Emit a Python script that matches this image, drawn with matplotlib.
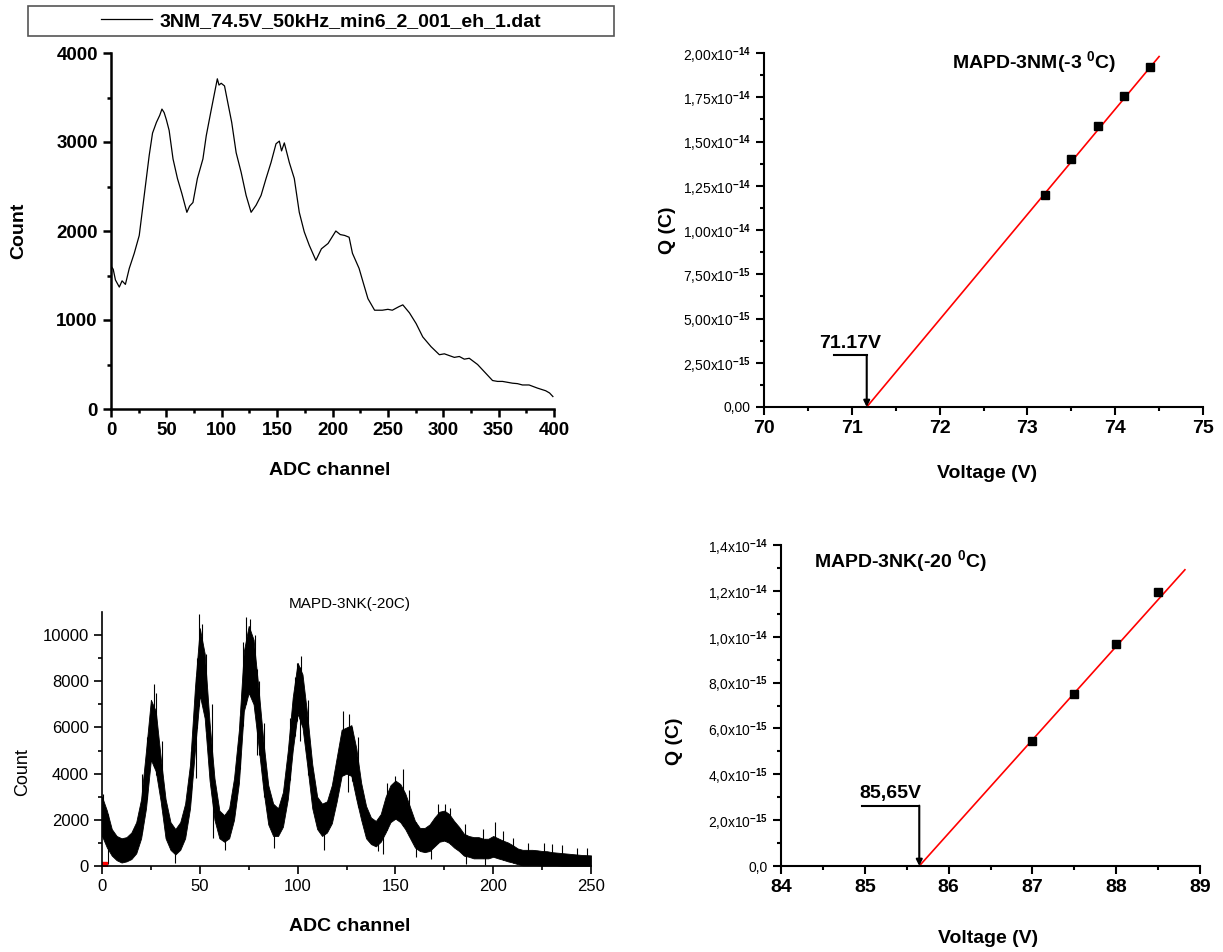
import numpy as np
import matplotlib
matplotlib.use("Agg")
import matplotlib.pyplot as plt
from matplotlib.patches import Rectangle
from matplotlib.lines import Line2D

plt.rcParams['font.family'] = ['Liberation Sans', 'DejaVu Sans']
plt.rcParams['mathtext.fontset'] = 'custom'
plt.rcParams['mathtext.rm'] = 'Liberation Sans:bold'
plt.rcParams['mathtext.default'] = 'rm'

# ---- top-left spectrum (3NM, 74.5 V) ----
spec1_label = "3NM_74.5V_50kHz_min6_2_001_eh_1.dat"
spec1_ch = [0, 0.4, 2, 4, 7.5, 10, 13, 16.5, 21, 25.5, 28.5, 31.5, 34.5, 37.5, 41,
            44, 46, 48, 50, 52.5, 56, 60, 64, 68.5, 71, 74, 78, 83, 86, 90, 93, 96,
            97.5, 99.5, 102.5, 105.5, 109, 113, 117.5, 122, 126.5, 131, 135.5, 140,
            144.5, 149, 152, 154, 156.5, 161, 165.5, 170, 174.5, 179, 185, 190, 196,
            203, 207, 211, 215, 218, 224, 227.5, 232, 238, 245, 250, 254, 260, 263.5,
            269.5, 275.5, 281.5, 289, 296.5, 301, 305.5, 310, 314.5, 319, 323.5, 331,
            338.5, 344.5, 349, 353.5, 358, 362.5, 367, 371.5, 377.5, 385, 392.5, 396, 399]
spec1_cnt = [790, 1600, 1570, 1450, 1370, 1440, 1400, 1580, 1750, 1950, 2250, 2550,
             2850, 3100, 3220, 3300, 3370, 3330, 3250, 3130, 2810, 2590, 2420, 2210,
             2280, 2320, 2590, 2810, 3070, 3330, 3520, 3710, 3640, 3660, 3630, 3440,
             3220, 2880, 2660, 2400, 2210, 2290, 2400, 2590, 2770, 2980, 3010, 2900,
             2990, 2770, 2590, 2210, 1990, 1840, 1670, 1800, 1860, 2000, 1960, 1950,
             1930, 1750, 1580, 1430, 1240, 1110, 1110, 1120, 1110, 1150, 1170, 1080,
             960, 810, 700, 610, 620, 600, 580, 590, 560, 570, 500, 400, 320, 310,
             310, 300, 290, 285, 270, 270, 235, 205, 180, 140]

# ---- bottom-left spectrum (3NK, -20 C): noisy band read as upper / lower envelope ----
spec2_ch = [0, 2.5, 5, 7.5, 10, 12.5, 15, 17.5, 20, 22.5, 25, 27.5, 30, 32.5, 35, 37.5,
            40, 42.5, 45, 47.5, 50, 52.5, 55, 57.5, 60, 62.5, 65, 67.5, 70, 72.5, 75,
            77.5, 80, 82.5, 85, 87.5, 90, 92.5, 95, 97.5, 100, 102.5, 105, 107.5, 110,
            112.5, 115, 117.5, 120, 122.5, 125, 127.5, 130, 132.5, 135, 137.5, 140,
            142.5, 145, 147.5, 150, 152.5, 155, 157.5, 160, 162.5, 165, 167.5, 170,
            172.5, 175, 177.5, 180, 182.5, 185, 187.5, 190, 192.5, 195, 197.5, 200,
            202.5, 205, 207.5, 210, 212.5, 215, 217.5, 220, 222.5, 225, 227.5, 230,
            232.5, 235, 237.5, 240, 242.5, 245, 247.5, 250]
spec2_hi = [3000, 2400, 1600, 1300, 1200, 1250, 1450, 1900, 2900, 5000, 7200, 6700,
            4700, 2900, 1900, 1600, 1900, 2700, 4400, 7700, 10300, 9200, 6200, 3800,
            2400, 2200, 2500, 3800, 5900, 9300, 10400, 9800, 7700, 5400, 3500, 2700,
            2500, 3200, 5000, 7300, 8800, 8300, 6500, 4400, 3000, 2700, 2800, 3500,
            4700, 5900, 6000, 6100, 5100, 3600, 2600, 2100, 1950, 2250, 3000, 3500,
            3700, 3550, 3150, 2550, 1950, 1650, 1650, 1800, 2100, 2350, 2400, 2250,
            1950, 1700, 1400, 1300, 1250, 1250, 1180, 1180, 1300, 1200, 1100, 1020,
            900, 760, 700, 700, 700, 680, 650, 640, 600, 580, 560, 540, 520, 500, 480,
            470, 460]
spec2_lo = [1300, 800, 450, 250, 150, 200, 300, 550, 1200, 2500, 4600, 4100, 2800,
            1200, 700, 500, 700, 1200, 2500, 5000, 7400, 6400, 3700, 2000, 1200, 1050,
            1200, 2000, 3600, 6700, 7500, 7000, 5200, 3300, 1800, 1300, 1300, 1700,
            2900, 5000, 6600, 6000, 4300, 2500, 1600, 1300, 1450, 1850, 2800, 3900,
            4000, 3900, 2900, 2000, 1200, 950, 850, 1050, 1450, 1900, 2050, 1900, 1600,
            1200, 800, 650, 600, 650, 850, 1050, 1100, 1000, 800, 650, 450, 400, 330,
            330, 330, 330, 400, 330, 270, 200, 150, 80, 30, 30, 30, 30, 20, 20, 20, 20,
            10, 10, 10, 10, 10, 10, 10]
spike_up_ch = [0.5, 20.5, 23, 26.5, 27.8, 30.5, 45.5, 48.5, 49.5, 51, 53, 56, 70.5,
               72, 73.5, 75.5, 78, 80.5, 83, 96, 98.5, 99.5, 101.5, 105.5, 123, 126.5,
               128, 131, 145.5, 150, 154, 157, 172, 175.5, 178, 185.5, 195, 201, 205,
               210, 218, 226, 230, 235, 243, 248]
spike_up_top = [3100, 4000, 5600, 7900, 7500, 5400, 5000, 9000, 10900, 10500, 9200,
                7000, 6500, 9700, 10800, 10700, 10000, 8000, 6200, 6400, 8200, 8800,
                9100, 7200, 6700, 6600, 6000, 5600, 3600, 3900, 4200, 3300, 2700, 2700,
                2500, 1800, 1600, 1900, 1500, 1200, 1000, 1000, 950, 900, 800, 800]
spike_dn_ch = [3, 37.5, 48, 57, 63, 79, 88, 101, 113.5, 126, 141, 143.5, 160.5, 168,
               186, 196]
spike_dn_bot = [100, 150, 3800, 1200, 700, 4800, 800, 5400, 700, 3200, 650, 500, 400,
                300, 100, 50]
spec2_title = "MAPD-3NK(-20C)"

# ---- top-right: charge vs voltage, MAPD-3NM ----
v1 = [73.2, 73.5, 73.8, 74.1, 74.4]
q1 = [1.20e-14, 1.40e-14, 1.585e-14, 1.755e-14, 1.92e-14]
fit1_v = [71.17, 74.5]
fit1_q = [0, 1.98e-14]
q1_ticks = [0, 2.5e-15, 5e-15, 7.5e-15, 1e-14, 1.25e-14, 1.5e-14, 1.75e-14, 2e-14]
q1_labels = ['0,00', '2,50x10$^{-15}$', '5,00x10$^{-15}$', '7,50x10$^{-15}$',
             '1,00x10$^{-14}$', '1,25x10$^{-14}$', '1,50x10$^{-14}$',
             '1,75x10$^{-14}$', '2,00x10$^{-14}$']
vbr1 = 71.17
vbr1_text = "71.17V"
title1 = "MAPD-3NM(-3 $^{0}$C)"

# ---- bottom-right: charge vs voltage, MAPD-3NK ----
v2 = [87.0, 87.5, 88.0, 88.5]
q2 = [5.45e-15, 7.48e-15, 9.7e-15, 1.195e-14]
fit2_v = [85.65, 88.82]
fit2_q = [0, 1.292e-14]
q2_ticks = [0, 2e-15, 4e-15, 6e-15, 8e-15, 1e-14, 1.2e-14, 1.4e-14]
q2_labels = ['0,0', '2,0x10$^{-15}$', '4,0x10$^{-15}$', '6,0x10$^{-15}$',
             '8,0x10$^{-15}$', '1,0x10$^{-14}$', '1,2x10$^{-14}$', '1,4x10$^{-14}$']
vbr2 = 85.65
vbr2_text = "85,65V"
title2 = "MAPD-3NK(-20 $^{0}$C)"

W, H = 1223, 952
fig = plt.figure(figsize=(W / 100, H / 100), dpi=100)


def box(l, t, r, b):
    return [l / W, 1 - b / H, (r - l) / W, (b - t) / H]


def origin_style(ax, lw=1.5):
    for s in ['top', 'right']:
        ax.spines[s].set_visible(False)
    for s in ['left', 'bottom']:
        ax.spines[s].set_linewidth(lw)
    ax.tick_params(which='major', direction='out', length=6, width=lw)
    ax.tick_params(which='minor', direction='out', length=3, width=lw)


# top-left
ax1 = fig.add_axes(box(111, 53, 554, 409))
ax1.plot(spec1_ch, spec1_cnt, color='black', lw=0.9, label=spec1_label)
ax1.set_xlim(0, 400)
ax1.set_ylim(0, 4000)
ax1.set_xticks(range(0, 401, 50))
ax1.set_xticks(range(25, 400, 50), minor=True)
ax1.set_yticks(range(0, 4001, 1000))
ax1.set_yticks(range(500, 4000, 1000), minor=True)
origin_style(ax1, lw=1.8)
for t in ax1.get_xticklabels() + ax1.get_yticklabels():
    t.set_fontsize(13.5)
    t.set_fontweight('bold')
ax1.set_xlabel("ADC channel", fontsize=14, fontweight='bold')
ax1.set_ylabel("Count", fontsize=14, fontweight='bold')
ax1.xaxis.set_label_coords(0.494, -0.15)
ax1.yaxis.set_label_coords(-0.19, 0.5)
fig.patches.append(Rectangle((28 / W, 1 - 36 / H), (614 - 28) / W, 30 / H,
                             transform=fig.transFigure, fill=False,
                             edgecolor='#555555', lw=1.2))
fig.legend(handles=[Line2D([], [], color='black', lw=0.9)], labels=[spec1_label],
           loc='center', bbox_to_anchor=(321 / W, 1 - 21 / H), frameon=False,
           prop={'weight': 'bold', 'size': 14}, handlelength=2.6, handletextpad=0.4)

# top-right
ax2 = fig.add_axes(box(764, 53, 1203, 407))
ax2.plot(fit1_v, fit1_q, color='red', lw=1.2)
ax2.plot(v1, q1, 's', color='black', ms=5.5)
ax2.set_xlim(70, 75)
ax2.set_ylim(0, 2e-14)
ax2.set_xticks(range(70, 76))
ax2.set_xticks(np.arange(70.5, 75, 1.0), minor=True)
ax2.set_yticks(q1_ticks)
ax2.set_yticklabels(q1_labels)
ax2.set_yticks(np.array(q1_ticks[:-1]) + 1.25e-15, minor=True)
origin_style(ax2)
for t in ax2.get_xticklabels():
    t.set_fontsize(14)
    t.set_fontweight('bold')
for t in ax2.get_yticklabels():
    t.set_fontsize(10)
ax2.set_xlabel("Voltage (V)", fontsize=14, fontweight='bold')
ax2.set_ylabel("Q (C)", fontsize=14, fontweight='bold')
ax2.xaxis.set_label_coords(0.508, -0.165)
ax2.yaxis.set_label_coords(-0.2, 0.5)
ax2.text(0.615, 0.975, title1, transform=ax2.transAxes, ha='center', va='center',
         fontsize=14, fontweight='bold')
ax2.plot([70.8, vbr1], [2.94e-15, 2.94e-15], color='black', lw=1.5)
ax2.annotate('', xy=(vbr1, 0), xytext=(vbr1, 2.94e-15),
             arrowprops=dict(arrowstyle='-|>', color='black', lw=1.5,
                             mutation_scale=9, shrinkA=0, shrinkB=0))
ax2.text(70.98, 3.1e-15, vbr1_text, ha='center', va='bottom', fontsize=14,
         fontweight='bold')

# bottom-left
ax3 = fig.add_axes(box(102, 612, 591, 866))
ax3.fill_between(spec2_ch, spec2_lo, spec2_hi, color='black', lw=0.6)
ax3.vlines(spike_up_ch, np.interp(spike_up_ch, spec2_ch, spec2_lo), spike_up_top,
           color='black', lw=0.8)
ax3.vlines(spike_dn_ch, spike_dn_bot, np.interp(spike_dn_ch, spec2_ch, spec2_hi),
           color='black', lw=0.8)
ax3.plot([1], [60], 's', color='red', ms=4)
ax3.set_xlim(0, 250)
ax3.set_ylim(0, 11000)
ax3.set_xticks(range(0, 251, 50))
ax3.set_xticks(range(25, 250, 50), minor=True)
ax3.set_yticks(range(0, 10001, 2000))
ax3.set_yticks(range(1000, 11000, 2000), minor=True)
origin_style(ax3, lw=1.2)
for t in ax3.get_xticklabels() + ax3.get_yticklabels():
    t.set_fontsize(12)
ax3.set_xlabel("ADC channel", fontsize=14, fontweight='bold')
ax3.set_ylabel("Count", fontsize=13)
ax3.xaxis.set_label_coords(0.507, -0.205)
ax3.yaxis.set_label_coords(-0.145, 0.37)
ax3.text(0.507, 1.03, spec2_title, transform=ax3.transAxes, ha='center',
         va='center', fontsize=11)

# bottom-right
ax4 = fig.add_axes(box(781, 545, 1200, 866))
ax4.plot(fit2_v, fit2_q, color='red', lw=1.2)
ax4.plot(v2, q2, 's', color='black', ms=5.5)
ax4.set_xlim(84, 89)
ax4.set_ylim(0, 1.4e-14)
ax4.set_xticks(range(84, 90))
ax4.set_xticks(np.arange(84.5, 89, 1.0), minor=True)
ax4.set_yticks(q2_ticks)
ax4.set_yticklabels(q2_labels)
ax4.set_yticks(np.array(q2_ticks[:-1]) + 1e-15, minor=True)
origin_style(ax4)
for t in ax4.get_xticklabels():
    t.set_fontsize(14)
    t.set_fontweight('bold')
for t in ax4.get_yticklabels():
    t.set_fontsize(10)
ax4.set_xlabel("Voltage (V)", fontsize=14, fontweight='bold')
ax4.set_ylabel("Q (C)", fontsize=14, fontweight='bold')
ax4.xaxis.set_label_coords(0.494, -0.2)
ax4.yaxis.set_label_coords(-0.235, 0.39)
ax4.text(0.286, 0.95, title2, transform=ax4.transAxes, ha='center', va='center',
         fontsize=14, fontweight='bold')
ax4.plot([84.97, vbr2], [2.63e-15, 2.63e-15], color='black', lw=1.5)
ax4.annotate('', xy=(vbr2, 0), xytext=(vbr2, 2.63e-15),
             arrowprops=dict(arrowstyle='-|>', color='black', lw=1.5,
                             mutation_scale=9, shrinkA=0, shrinkB=0))
ax4.text(85.3, 2.8e-15, vbr2_text, ha='center', va='bottom', fontsize=14,
         fontweight='bold')

fig.savefig("out.png", dpi=100)
